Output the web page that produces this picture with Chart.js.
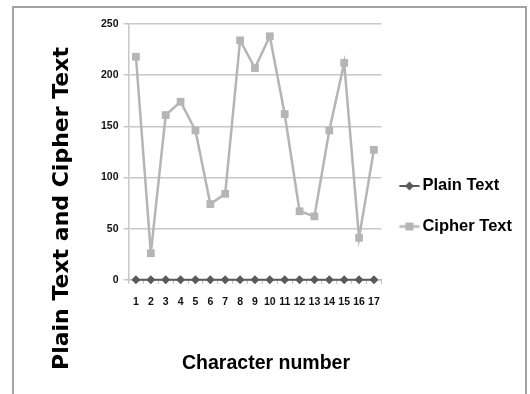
<!DOCTYPE html>
<html><head><meta charset="utf-8">
<script src="https://cdn.jsdelivr.net/npm/chart.js@4.4.0/dist/chart.umd.min.js"></script>
<style>
html,body{margin:0;padding:0;background:#fff;}
#wrap{position:relative;width:530px;height:394px;overflow:hidden;background:#fff;}
#frame{position:absolute;left:12px;top:6px;width:511px;height:400px;border:2px solid #a3a3a3;pointer-events:none;}
canvas{position:absolute;left:0;top:0;}
</style></head><body>
<div id="wrap"><canvas id="c" width="530" height="394"></canvas><div id="frame"></div></div>
<script>
// ---- data ----
const categories = ['1','2','3','4','5','6','7','8','9','10','11','12','13','14','15','16','17'];
const plainText  = [0,0,0,0,0,0,0,0,0,0,0,0,0,0,0,0,0];
const cipherText = [218,26,161,174,146,74,84,234,207,238,162,67,62,146,212,41,127];
const yTicks = [0,50,100,150,200,250];
const seriesNames = ['Plain Text','Cipher Text'];
const xAxisTitle = 'Character number';
const yAxisTitle = 'Plain Text and Cipher Text';

// ---- styles ----
const PLAIN_COLOR = '#5a5a5a';
const CIPHER_COLOR = '#b5b5b5';
const SANS = '"Liberation Sans", Arial, sans-serif';

function makeMarker(color, style, lineW, r) {
  const cv = document.createElement('canvas');
  cv.width = 28; cv.height = 14;
  const g = cv.getContext('2d');
  g.strokeStyle = color; g.lineWidth = lineW;
  g.beginPath(); g.moveTo(3.5, 7); g.lineTo(23.7, 7); g.stroke();
  g.fillStyle = color;
  g.beginPath();
  const cx = 13.6;
  if (style === 'diamond') {
    g.moveTo(cx, 7 - r); g.lineTo(cx + r, 7); g.lineTo(cx, 7 + r); g.lineTo(cx - r, 7); g.closePath();
  } else {
    g.rect(cx - r, 7 - r, 2 * r, 2 * r);
  }
  g.fill();
  return cv;
}
const markers = [
  makeMarker(PLAIN_COLOR, 'diamond', 2, 4.5),
  makeMarker(CIPHER_COLOR, 'square', 2.5, 4)
];

const titlePlugin = {
  id: 'axisTitles',
  afterDraw(chart) {
    const ctx = chart.ctx;
    ctx.save();
    ctx.fillStyle = '#000';
    ctx.textAlign = 'center';
    ctx.textBaseline = 'middle';
    ctx.font = 'bold 22px "DejaVu Sans", sans-serif';
    ctx.translate(62, 208.5);
    ctx.rotate(-Math.PI / 2);
    ctx.fillText(yAxisTitle, 0, 0);
    ctx.restore();
    ctx.save();
    ctx.fillStyle = '#000';
    ctx.textAlign = 'center';
    ctx.textBaseline = 'middle';
    ctx.font = 'bold 19.5px ' + SANS;
    ctx.fillText(xAxisTitle, 266, 364);
    ctx.restore();
  }
};

new Chart(document.getElementById('c'), {
  type: 'line',
  data: {
    labels: categories,
    datasets: [
      {
        label: seriesNames[0], data: plainText,
        borderColor: PLAIN_COLOR, backgroundColor: PLAIN_COLOR,
        borderWidth: 2, pointStyle: 'rectRot', pointRadius: 4.5,
        pointBackgroundColor: PLAIN_COLOR, pointBorderColor: PLAIN_COLOR, pointBorderWidth: 0,
        tension: 0, clip: false
      },
      {
        label: seriesNames[1], data: cipherText,
        borderColor: CIPHER_COLOR, backgroundColor: CIPHER_COLOR,
        borderWidth: 2.5, pointStyle: 'rect', pointRadius: 5.5,
        pointBackgroundColor: CIPHER_COLOR, pointBorderColor: CIPHER_COLOR, pointBorderWidth: 0,
        tension: 0, clip: false
      }
    ]
  },
  options: {
    responsive: false,
    animation: false,
    events: [],
    layout: { padding: { left: 96, right: 8, top: 24, bottom: 73.6 } },
    scales: {
      x: {
        type: 'category',
        offset: true,
        grid: { drawOnChartArea: false, offset: true, tickLength: 4, tickColor: '#bdbdbd', color: '#bdbdbd' },
        border: { color: '#bdbdbd', width: 1.5 },
        ticks: { autoSkip: false, maxRotation: 0, padding: 12, color: '#111',
                 font: { family: SANS, size: 10.5, weight: 'bold' } }
      },
      y: {
        min: 0, max: 250,
        afterBuildTicks(scale) { scale.ticks = yTicks.map(v => ({ value: v })); },
        grid: { color: '#c8c8c8', lineWidth: 1.5, tickLength: 5 },
        border: { color: '#c8c8c8', width: 1.5 },
        ticks: { padding: 5, color: '#111', font: { family: SANS, size: 10.5, weight: 'bold' } }
      }
    },
    plugins: {
      tooltip: { enabled: false },
      legend: {
        position: 'right',
        align: 'center',
        maxWidth: 148.5,
        title: { display: true, text: '', font: { size: 10 }, padding: { top: 56, bottom: 0 } },
        labels: {
          usePointStyle: true,
          pointStyleWidth: 8.85,
          padding: 24,
          color: '#000',
          font: { family: SANS, size: 16.5, weight: 'bold' },
          generateLabels(chart) {
            return chart.data.datasets.map((ds, i) => ({
              text: ds.label, pointStyle: markers[i], fillStyle: ds.borderColor,
              strokeStyle: ds.borderColor, fontColor: '#000', lineWidth: 0, hidden: false, datasetIndex: i
            }));
          }
        }
      }
    }
  },
  plugins: [titlePlugin]
});
</script>
</body></html>
